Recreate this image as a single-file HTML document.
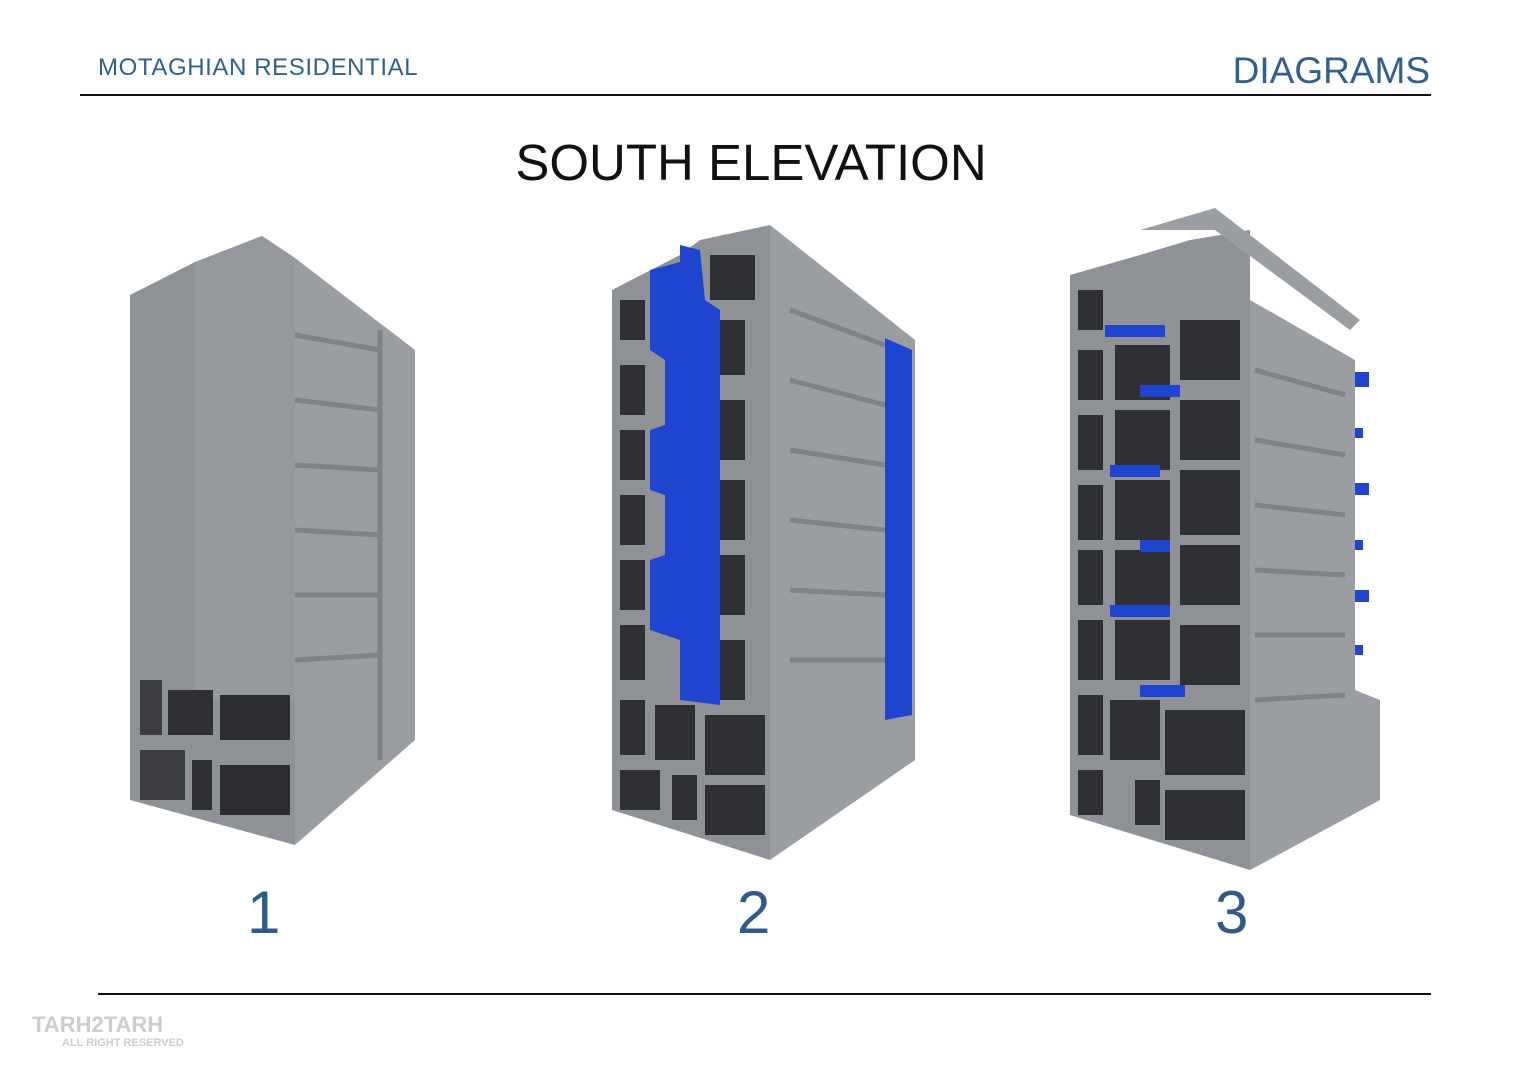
<!DOCTYPE html>
<html><head><meta charset="utf-8"><style>
html,body{margin:0;padding:0;background:#fff;}
body{width:1527px;height:1080px;position:relative;overflow:hidden;font-family:"Liberation Sans",sans-serif;}
.t{position:absolute;white-space:nowrap;}
</style></head><body>
<div class="t" style="left:98px;top:54px;font-size:24px;letter-spacing:0.6px;color:#2f6090;">MOTAGHIAN RESIDENTIAL</div>
<div class="t" style="right:97px;top:50px;font-size:37px;color:#2f6090;">DIAGRAMS</div>
<div style="position:absolute;left:80px;top:94px;width:1351px;height:2px;background:#111;"></div>
<div class="t" style="left:0;width:1502px;text-align:center;top:133px;font-size:51px;color:#111;">SOUTH ELEVATION</div>
<div class="t" style="left:247px;top:878px;font-size:60px;color:#2c5b8c;">1</div>
<div class="t" style="left:737px;top:878px;font-size:60px;color:#2c5b8c;">2</div>
<div class="t" style="left:1215px;top:878px;font-size:60px;color:#2c5b8c;">3</div>
<div style="position:absolute;left:98px;top:993px;width:1333px;height:2px;background:#111;"></div>
<div class="t" style="left:32px;top:1012px;font-size:22px;color:#ccc;font-weight:bold;">TARH2TARH</div>
<div class="t" style="left:62px;top:1037px;font-size:11px;color:#ccc;font-weight:bold;">ALL RIGHT RESERVED</div>

<svg width="1527" height="1080" style="position:absolute;left:0;top:0" xmlns="http://www.w3.org/2000/svg">
<!-- Building 1 -->
<polygon points="130,295 195,262 262,236 295,258 295,845 130,800" fill="#8e9297"/>
<polygon points="195,262 262,236 295,258 295,700 195,700" fill="#95999e"/>
<polygon points="295,258 415,350 415,740 295,845" fill="#9a9ea3"/>
<g stroke="#7f8388" stroke-width="5">
<line x1="295" y1="335" x2="380" y2="350"/><line x1="295" y1="400" x2="380" y2="410"/>
<line x1="295" y1="465" x2="380" y2="470"/><line x1="295" y1="530" x2="380" y2="535"/>
<line x1="295" y1="595" x2="380" y2="595"/><line x1="295" y1="660" x2="380" y2="655"/>
<line x1="380" y1="330" x2="380" y2="760"/>
</g>
<rect x="140" y="680" width="22" height="55" fill="#3a3c40"/><rect x="168" y="690" width="45" height="45" fill="#2e3033"/>
<rect x="220" y="695" width="70" height="45" fill="#2a2c2f"/>
<rect x="140" y="750" width="45" height="50" fill="#3a3c40"/><rect x="192" y="760" width="20" height="50" fill="#2e3033"/>
<rect x="220" y="765" width="70" height="50" fill="#2a2c2f"/>

<!-- Building 2 -->
<polygon points="612,290 680,255 700,240 770,225 770,860 612,810" fill="#8e9297"/>
<polygon points="770,225 915,340 915,760 770,860" fill="#9a9ea3"/>
<g stroke="#7f8388" stroke-width="5">
<line x1="790" y1="310" x2="885" y2="345"/><line x1="790" y1="380" x2="885" y2="405"/>
<line x1="790" y1="450" x2="885" y2="465"/><line x1="790" y1="520" x2="885" y2="530"/>
<line x1="790" y1="590" x2="885" y2="595"/><line x1="790" y1="660" x2="885" y2="660"/>
</g>
<g fill="#2e3034">
<rect x="620" y="300" width="25" height="40"/><rect x="620" y="365" width="25" height="50"/>
<rect x="620" y="430" width="25" height="50"/><rect x="620" y="495" width="25" height="50"/>
<rect x="620" y="560" width="25" height="50"/><rect x="620" y="625" width="25" height="55"/>
<rect x="715" y="320" width="30" height="55"/><rect x="715" y="400" width="30" height="60"/>
<rect x="715" y="480" width="30" height="60"/><rect x="715" y="555" width="30" height="60"/>
<rect x="715" y="640" width="30" height="60"/><rect x="710" y="255" width="45" height="45"/>
<rect x="620" y="700" width="25" height="55"/><rect x="655" y="705" width="40" height="55"/><rect x="705" y="715" width="60" height="60"/>
<rect x="620" y="770" width="40" height="40"/><rect x="672" y="775" width="25" height="45"/><rect x="705" y="785" width="60" height="50"/>
</g>
<polygon points="650,270 680,262 680,245 700,250 705,300 720,310 720,705 680,700 680,640 650,630 650,560 665,555 665,495 650,490 650,430 665,425 665,360 650,350" fill="#1f45d0"/>
<polygon points="885,338 912,350 912,715 885,720" fill="#1f45d0"/>

<!-- Building 3 -->
<polygon points="1070,275 1140,255 1190,240 1250,230 1250,870 1070,815" fill="#8e9297"/>
<polygon points="1140,230 1215,208 1360,320 1350,330 1215,230" fill="#9a9ea3"/>
<polygon points="1250,300 1355,360 1355,690 1380,700 1380,800 1250,870" fill="#9a9ea3"/>
<g fill="#2e3034">
<rect x="1078" y="290" width="25" height="40"/><rect x="1078" y="350" width="25" height="50"/>
<rect x="1078" y="415" width="25" height="55"/><rect x="1078" y="485" width="25" height="55"/>
<rect x="1078" y="550" width="25" height="55"/><rect x="1078" y="620" width="25" height="60"/>
<rect x="1115" y="345" width="55" height="55"/><rect x="1115" y="410" width="55" height="60"/>
<rect x="1115" y="480" width="55" height="60"/><rect x="1115" y="550" width="55" height="60"/>
<rect x="1115" y="620" width="55" height="60"/>
<rect x="1180" y="320" width="60" height="60"/><rect x="1180" y="400" width="60" height="60"/>
<rect x="1180" y="470" width="60" height="65"/><rect x="1180" y="545" width="60" height="60"/>
<rect x="1180" y="625" width="60" height="60"/>
<rect x="1078" y="695" width="25" height="60"/><rect x="1110" y="700" width="50" height="60"/><rect x="1165" y="710" width="80" height="65"/>
<rect x="1078" y="770" width="25" height="45"/><rect x="1135" y="780" width="25" height="45"/><rect x="1165" y="790" width="80" height="50"/>
</g>
<g fill="#1f45d0">
<rect x="1105" y="325" width="60" height="12"/><rect x="1140" y="385" width="40" height="12"/>
<rect x="1110" y="465" width="50" height="12"/><rect x="1140" y="540" width="30" height="12"/>
<rect x="1110" y="605" width="60" height="12"/><rect x="1140" y="685" width="45" height="12"/>
<rect x="1355" y="372" width="14" height="15"/><rect x="1355" y="428" width="8" height="10"/>
<rect x="1355" y="483" width="14" height="12"/><rect x="1355" y="540" width="8" height="10"/>
<rect x="1355" y="590" width="14" height="12"/><rect x="1355" y="645" width="8" height="10"/>
</g>
<g stroke="#7f8388" stroke-width="5">
<line x1="1255" y1="370" x2="1345" y2="395"/><line x1="1255" y1="440" x2="1345" y2="455"/>
<line x1="1255" y1="505" x2="1345" y2="515"/><line x1="1255" y1="570" x2="1345" y2="575"/>
<line x1="1255" y1="635" x2="1345" y2="635"/><line x1="1255" y1="700" x2="1345" y2="695"/>
</g>
</svg>
</body></html>
